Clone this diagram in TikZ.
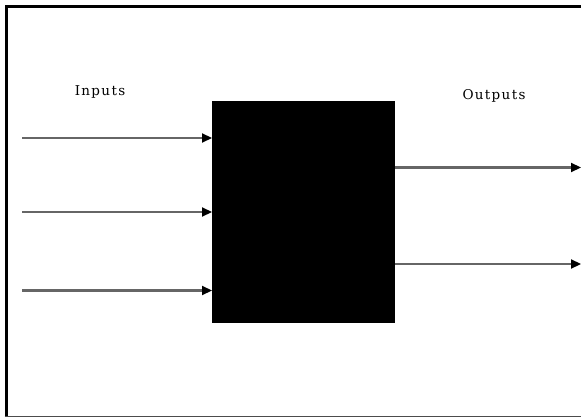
\documentclass[tikz,border=0pt]{standalone}
\usepackage{fontspec}
\newfontfamily\labelfont[LetterSpace=10]{DejaVu Serif}
\usetikzlibrary{arrows.meta}
\begin{document}
\begin{tikzpicture}[x=1pt,y=-1pt,
  wire/.style={draw=black!60,line width=2.2pt,-{Triangle[length=10pt,width=9pt,fill=black,color=black]}},
  lbl/.style={font=\labelfont\fontsize{13.5}{15}\selectfont,inner sep=0pt}]
\useasboundingbox (0,0) rectangle (581,417);
% frame
\draw[line width=3pt] (581,6.3) -- (6,6.3) -- (6,416);
\draw[line width=1pt,black!70] (4.5,416) -- (581,416);
% black box
\node[fill=black,draw=none,minimum width=183pt,minimum height=222pt,inner sep=0pt,anchor=north west] (box) at (212,101) {};
% input coordinates
\coordinate (i1) at (22,138);
\coordinate (i2) at (22,212);
\coordinate (i3) at (22,290.5);
\coordinate (o1) at (581,167.5);
\coordinate (o2) at (581,264);
\draw[wire] (i1) -- (i1 -| box.west);
\draw[wire] (i2) -- (i2 -| box.west);
\draw[wire] (i3) -- (i3 -| box.west);
\draw[wire] (o1 -| box.east) -- (o1);
\draw[wire] (o2 -| box.east) -- (o2);
\node[lbl] (inl) at (100,92) {Inputs};
\node[lbl] (outl) at (494,96) {Outputs};
\end{tikzpicture}
\end{document}
